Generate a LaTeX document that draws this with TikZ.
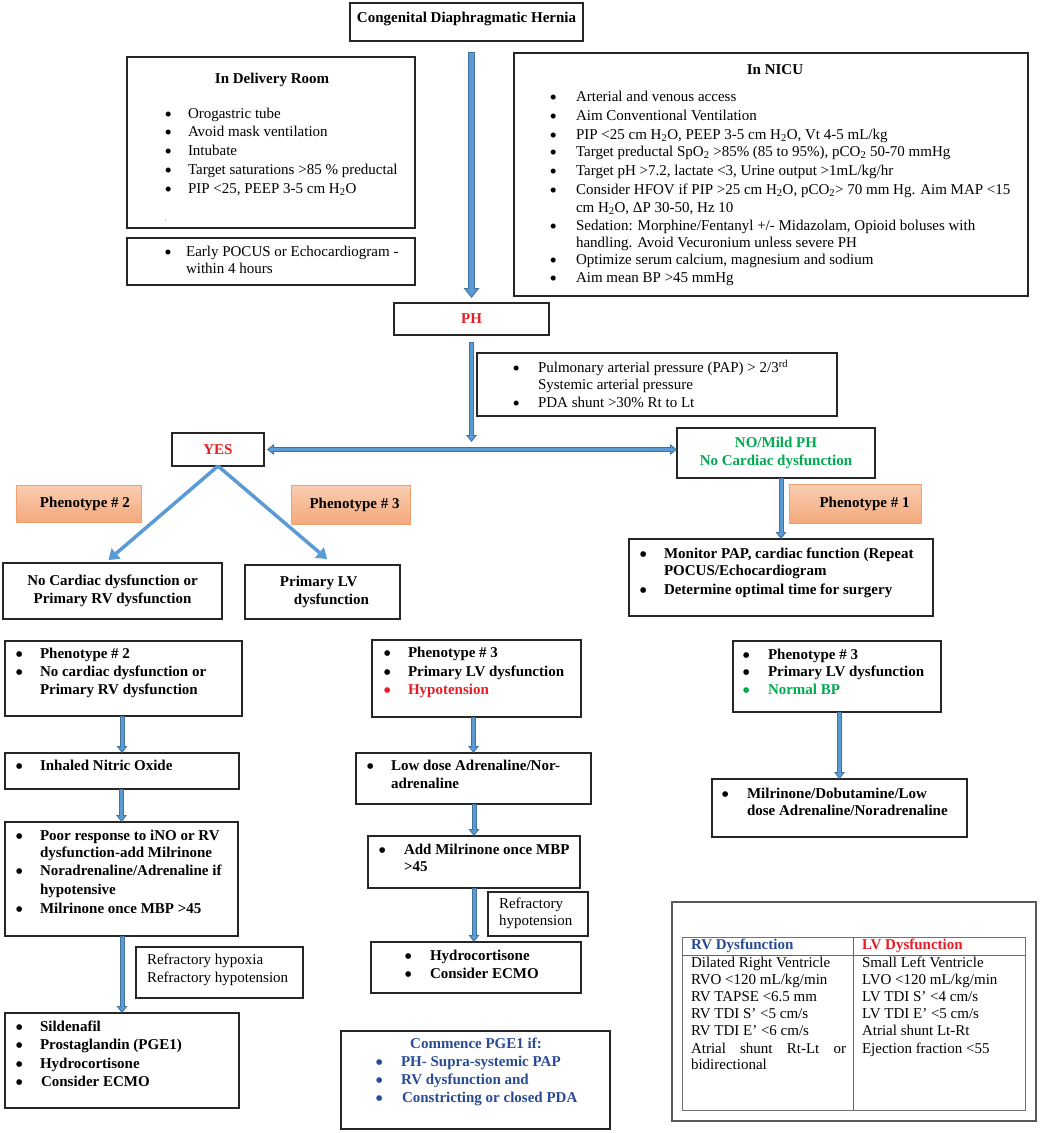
\documentclass[tikz,border=0pt]{standalone}
\usepackage{fontspec}
\setmainfont{Liberation Serif}
\usetikzlibrary{arrows.meta,calc}
\definecolor{afill}{RGB}{91,155,213}
\definecolor{aline}{RGB}{65,113,156}
\definecolor{tred}{RGB}{232,28,36}
\definecolor{tgreen}{RGB}{0,170,80}
\definecolor{tblue}{RGB}{40,75,150}
\definecolor{orA}{RGB}{249,206,178}
\definecolor{orB}{RGB}{244,168,124}
\definecolor{orL}{RGB}{240,160,110}
\newcommand\fs{\fontsize{15}{18}\selectfont}
\newcommand\bu[1][24pt]{\makebox[#1][l]{\hspace*{-0.8pt}\smash{\raisebox{-2.8pt}{\scalebox{1.4}{\textbullet}}}}}
\newcommand\lsub[1]{\textsubscript{#1}}
\begin{document}
\begin{tikzpicture}[x=1pt,y=-1pt,
  box/.style={draw=black!85, line width=1.1pt, inner sep=0pt, outer sep=0pt, font=\fs\bfseries, align=center},
  pheno/.style={box, draw=orL, line width=0.8pt, top color=orA, bottom color=orB},
  tx/.style={inner sep=0pt, outer sep=0pt, anchor=mid west, font=\fs},
  tb/.style={tx, font=\fs\bfseries},
  bigarrow/.style={draw=aline, line width=7.5pt, -{Triangle[length=10pt,width=16pt,line width=0pt]},
    postaction={draw=afill, line width=5.5pt, -{Triangle[length=7.4pt,width=11.8pt,line width=0pt]}, shorten >=1.6pt, shorten <=1pt}},
  midarrow/.style={draw=aline, line width=5pt, -{Triangle[length=7pt,width=11pt,line width=0pt]},
    postaction={draw=afill, line width=3pt, -{Triangle[length=4.4pt,width=6.9pt,line width=0pt]}, shorten >=1.6pt, shorten <=1pt}},
  dblarrow/.style={draw=aline, line width=5pt, {Triangle[length=7pt,width=11pt,line width=0pt]}-{Triangle[length=7pt,width=11pt,line width=0pt]},
    postaction={draw=afill, line width=3pt, {Triangle[length=4.4pt,width=6.9pt,line width=0pt]}-{Triangle[length=4.4pt,width=6.9pt,line width=0pt]}, shorten >=1.6pt, shorten <=1.6pt}},
  diagarrow/.style={draw=afill, line width=3.5pt, -{Triangle[length=10pt,width=14pt,line width=0pt]}},
  tline/.style={draw=black!60, line width=1pt}
]
\fill[white] (0,0) rectangle (1040,1133);
\useasboundingbox (0,0) rectangle (1040,1133);

% ---------- top ----------
\node[box, minimum width=233pt, minimum height=38pt, text height=10.5pt, text depth=9pt] (title) at (466.5,22) {Congenital Diaphragmatic Hernia};

% Delivery room
\node[box, minimum width=288pt, minimum height=171pt] (dr) at (271,142.5) {};
\node[tb, anchor=mid] (drh) at (272,81) {In Delivery Room};
\node[tx] (dr1) at (165.4,116) {\bu[22.6pt]Orogastric tube};
\node[tx] (dr2) at (165.4,134) {\bu[22.6pt]Avoid mask ventilation};
\node[tx] (dr3) at (165.4,153) {\bu[22.6pt]Intubate};
\node[tx] (dr4) at (165.4,172) {\bu[22.6pt]Target saturations >85 \% preductal};
\node[tx] (dr5) at (165.4,191) {\bu[22.6pt]PIP <25, PEEP 3-5 cm H\lsub{2}O};
\node[tx, text=black!50, font=\fontsize{8}{8}\selectfont] (drdot) at (164.5,219) {.};

% POCUS
\node[box, minimum width=288pt, minimum height=47pt] (po) at (271,261.5) {};
\node[tx] (po1) at (165.1,254) {\bu[21pt]Early POCUS or Echocardiogram -};
\node[tx] (po2) at (186,271) {within 4 hours};

% NICU
\node[box, minimum width=514pt, minimum height=243pt] (nicu) at (771,174.5) {};
\node[tb, anchor=mid] (nh) at (775,72) {In NICU};
\node[tx] (n1) at (550.4,99) {\bu[25.6pt]Arterial and venous access};
\node[tx] (n2) at (550.4,118) {\bu[25.6pt]Aim Conventional Ventilation};
\node[tx] (n3) at (550.4,137) {\bu[25.6pt]PIP <25 cm H\lsub{2}O, PEEP 3-5 cm H\lsub{2}O, Vt 4-5 mL/kg};
\node[tx] (n4) at (550.4,154) {\bu[25.6pt]Target preductal SpO\lsub{2} >85\% (85 to 95\%), pCO\lsub{2} 50-70 mmHg};
\node[tx] (n5) at (550.4,173) {\bu[25.6pt]Target pH >7.2, lactate <3, Urine output >1mL/kg/hr};
\node[tx] (n6) at (550.4,192) {\bu[25.6pt]Consider HFOV if PIP >25 cm H\lsub{2}O, pCO\lsub{2}> 70 mm Hg. Aim MAP <15};
\node[tx] (n6b) at (576,210) {cm H\lsub{2}O, ΔP 30-50, Hz 10};
\node[tx] (n7) at (550.4,228) {\bu[25.6pt]Sedation: Morphine/Fentanyl +/- Midazolam, Opioid boluses with};
\node[tx] (n7b) at (576,245) {handling. Avoid Vecuronium unless severe PH};
\node[tx] (n8) at (550.4,262) {\bu[25.6pt]Optimize serum calcium, magnesium and sodium};
\node[tx] (n9) at (550.4,280) {\bu[25.6pt]Aim mean BP >45 mmHg};

% PH
\node[box, minimum width=155pt, minimum height=32pt, text=tred] (ph) at (471.5,319) {PH};

% PAP criteria
\node[box, minimum width=360pt, minimum height=63pt] (pap) at (657,384.5) {};
\node[tx] (p1) at (513.4,370) {\bu[24.6pt]Pulmonary arterial pressure (PAP) > 2/3\textsuperscript{rd}};
\node[tx] (p1b) at (538,387) {Systemic arterial pressure};
\node[tx] (p2) at (513.4,405) {\bu[24.6pt]PDA shunt >30\% Rt to Lt};

% YES / NO
\node[box, minimum width=92pt, minimum height=33pt, text=tred] (yes) at (218,449.5) {YES};
\node[box, minimum width=198pt, minimum height=50pt, text=tgreen] (no) at (776,453) {NO/Mild PH\\No Cardiac dysfunction};

% Phenotype labels
\node[pheno, minimum width=125pt, minimum height=37pt] (ph2) at (78.5,503.5) {\hspace*{13pt}Phenotype \# 2};
\node[pheno, minimum width=119pt, minimum height=39pt] (ph3) at (350.5,504.5) {\hspace*{8pt}Phenotype \# 3};
\node[pheno, minimum width=132pt, minimum height=39pt] (ph1) at (855,503.5) {\hspace*{19pt}Phenotype \# 1};

% second level
\node[box, minimum width=219pt, minimum height=56pt] (nocard) at (112.5,591) {No Cardiac dysfunction or\\Primary RV dysfunction};
\node[box, minimum width=155pt, minimum height=54pt, align=left] (primlv) at (322.5,592) {\hspace*{4pt}Primary LV\\\hspace*{18pt}dysfunction};

\node[box, minimum width=304pt, minimum height=77pt] (mon) at (781,577.5) {};
\node[tb] (m1) at (640.4,556) {\bu[23.6pt]Monitor PAP, cardiac function (Repeat};
\node[tb] (m1b) at (664,573) {POCUS/Echocardiogram};
\node[tb] (m2) at (640.4,592) {\bu[23.6pt]Determine optimal time for surgery};

% ---------- left column ----------
\node[box, minimum width=237pt, minimum height=75pt] (p2) at (123.5,678.5) {};
\node[tb] (a1) at (16.4,656) {\bu[23.6pt]Phenotype \# 2};
\node[tb] (a2) at (16.4,674) {\bu[23.6pt]No cardiac dysfunction or};
\node[tb] (a2b) at (40,692) {Primary RV dysfunction};

\node[box, minimum width=234pt, minimum height=36pt] (ino) at (122,771) {};
\node[tb] (a3) at (16.4,768) {\bu[23.6pt]Inhaled Nitric Oxide};

\node[box, minimum width=233pt, minimum height=114pt] (poor) at (121.5,879) {};
\node[tb] (a4) at (16.4,838) {\bu[23.6pt]Poor response to iNO or RV};
\node[tb] (a4b) at (40,855) {dysfunction-add Milrinone};
\node[tb] (a5) at (16.4,873) {\bu[23.6pt]Noradrenaline/Adrenaline if};
\node[tb] (a5b) at (40,892) {hypotensive};
\node[tb] (a6) at (16.4,911) {\bu[23.6pt]Milrinone once MBP >45};

\node[box, minimum width=167pt, minimum height=51pt] (ref1) at (219.5,972.5) {};
\node[tx] (r1) at (147,962) {Refractory hypoxia};
\node[tx] (r1b) at (147,980) {Refractory hypotension};

\node[box, minimum width=234pt, minimum height=95pt] (fin) at (122,1060.5) {};
\node[tb] (f1) at (16.4,1029) {\bu[23.6pt]Sildenafil};
\node[tb] (f2) at (16.4,1047) {\bu[23.6pt]Prostaglandin (PGE1)};
\node[tb] (f3) at (16.4,1066) {\bu[23.6pt]Hydrocortisone};
\node[tb] (f4) at (16.4,1084) {\bu[24.6pt]Consider ECMO};

% ---------- middle column ----------
\node[box, minimum width=209pt, minimum height=77pt] (p3) at (476.5,678.5) {};
\node[tb] (b1) at (384.4,655) {\bu[23.6pt]Phenotype \# 3};
\node[tb] (b2) at (384.4,674) {\bu[23.6pt]Primary LV dysfunction};
\node[tb, text=tred] (b3) at (384.4,692) {\bu[23.6pt]Hypotension};

\node[box, minimum width=235pt, minimum height=51pt] (low) at (473.5,778.5) {};
\node[tb] (b4) at (367.4,768) {\bu[23.6pt]Low dose Adrenaline/Nor-};
\node[tb] (b4b) at (391,786) {adrenaline};

\node[box, minimum width=212pt, minimum height=52pt] (am) at (474,862) {};
\node[tb] (b5) at (379.4,852) {\bu[24.6pt]Add Milrinone once MBP};
\node[tb] (b5b) at (404,869) {>45};

\node[box, minimum width=100pt, minimum height=44pt] (ref2) at (538,914) {};
\node[tx] (r2) at (499,906) {Refractory};
\node[tx] (r2b) at (499,923) {hypotension};

\node[box, minimum width=210pt, minimum height=51pt] (hy) at (476,967.5) {};
\node[tb] (b6) at (405.4,958) {\bu[24.6pt]Hydrocortisone};
\node[tb] (b7) at (405.4,976) {\bu[24.6pt]Consider ECMO};

\node[box, minimum width=269pt, minimum height=98pt] (com) at (475.5,1080) {};
\node[tb, anchor=mid, text=tblue] (c0) at (476,1046) {Commence PGE1 if:};
\node[tb, text=tblue] (c1) at (376.4,1064) {\bu[24.6pt]PH- Supra-systemic PAP};
\node[tb, text=tblue] (c2) at (376.4,1082) {\bu[24.6pt]RV dysfunction and};
\node[tb, text=tblue] (c3) at (376.4,1100) {\bu[25.6pt]Constricting or closed PDA};

% ---------- right column ----------
\node[box, minimum width=208pt, minimum height=71pt] (p3n) at (837,676.5) {};
\node[tb] (d1) at (743.4,657) {\bu[24.6pt]Phenotype \# 3};
\node[tb] (d2) at (743.4,674) {\bu[24.6pt]Primary LV dysfunction};
\node[tb, text=tgreen] (d3) at (743.4,692) {\bu[24.6pt]Normal BP};

\node[box, minimum width=255pt, minimum height=58pt] (mil) at (839.5,808) {};
\node[tb] (e1) at (722.4,796) {\bu[24.6pt]Milrinone/Dobutamine/Low};
\node[tb] (e1b) at (747,813) {dose Adrenaline/Noradrenaline};

% ---------- table ----------
\node[box, draw=black!65, line width=1.2pt, minimum width=364pt, minimum height=219pt] (tbo) at (854,1011.5) {};
\node[box, draw=black!55, line width=1pt, minimum width=343pt, minimum height=173pt] (tbi) at (853.5,1023.5) {};
\coordinate (hl) at (682,955);
\coordinate (hr) at (1025,955);
\coordinate (vt) at (853,937);
\coordinate (vb) at (853,1110);
\draw[tline] (hl) -- (hr);
\draw[tline] (vt) -- (vb);
\node[tb, text=tblue] (th1) at (691,947) {RV Dysfunction};
\node[tb, text=tred] (th2) at (862,947) {LV Dysfunction};
\node[tx] (l1) at (691,965) {Dilated Right Ventricle};
\node[tx] (l2) at (691,982) {RVO <120 mL/kg/min};
\node[tx] (l3) at (691,999) {RV TAPSE <6.5 mm};
\node[tx] (l4) at (691,1016) {RV TDI S’ <5 cm/s};
\node[tx] (l5) at (691,1033) {RV TDI E’ <6 cm/s};
\node[tx] (l6) at (691,1051) {\makebox[155pt][s]{Atrial shunt Rt-Lt or}};
\node[tx] (l7) at (691,1067) {bidirectional};
\node[tx] (q1) at (862,965) {Small Left Ventricle};
\node[tx] (q2) at (862,982) {LVO <120 mL/kg/min};
\node[tx] (q3) at (862,999) {LV TDI S’ <4 cm/s};
\node[tx] (q4) at (862,1016) {LV TDI E’ <5 cm/s};
\node[tx] (q5) at (862,1033) {Atrial shunt Lt-Rt};
\node[tx] (q6) at (862,1051) {Ejection fraction <55};

% ---------- connectors ----------
\coordinate (hj) at (471.5,442);
\draw[bigarrow] ($(ph.north |- title.south)+(0,11)$) -- ($(ph.north)+(0,-5)$);
\draw[midarrow] ($(ph.south)+(0,7)$) -- (hj);
\draw[dblarrow] ($(yes.east)+(3,0)$) -- (yes.east -| no.west);
\draw[diagarrow] (yes.south) -- ($(nocard.north)+(-4,-3)$);
\draw[diagarrow] (yes.south) -- ($(primlv.north)+(4.5,-6)$);
\draw[midarrow] (no.south -| mon.north) -- (mon.north);

\draw[midarrow] (ino.north |- p2.south) -- (ino.north);
\draw[midarrow] (poor.north |- ino.south) -- (poor.north);
\draw[midarrow] (fin.north |- poor.south) -- (fin.north);

\draw[midarrow] (low.north |- p3.south) -- (low.north);
\draw[midarrow] (am.north |- low.south) -- (am.north);
\draw[midarrow] (am.south) -- (am.south |- hy.north);

\draw[midarrow] (p3n.south -| mil.north) -- (mil.north);
\end{tikzpicture}
\end{document}
